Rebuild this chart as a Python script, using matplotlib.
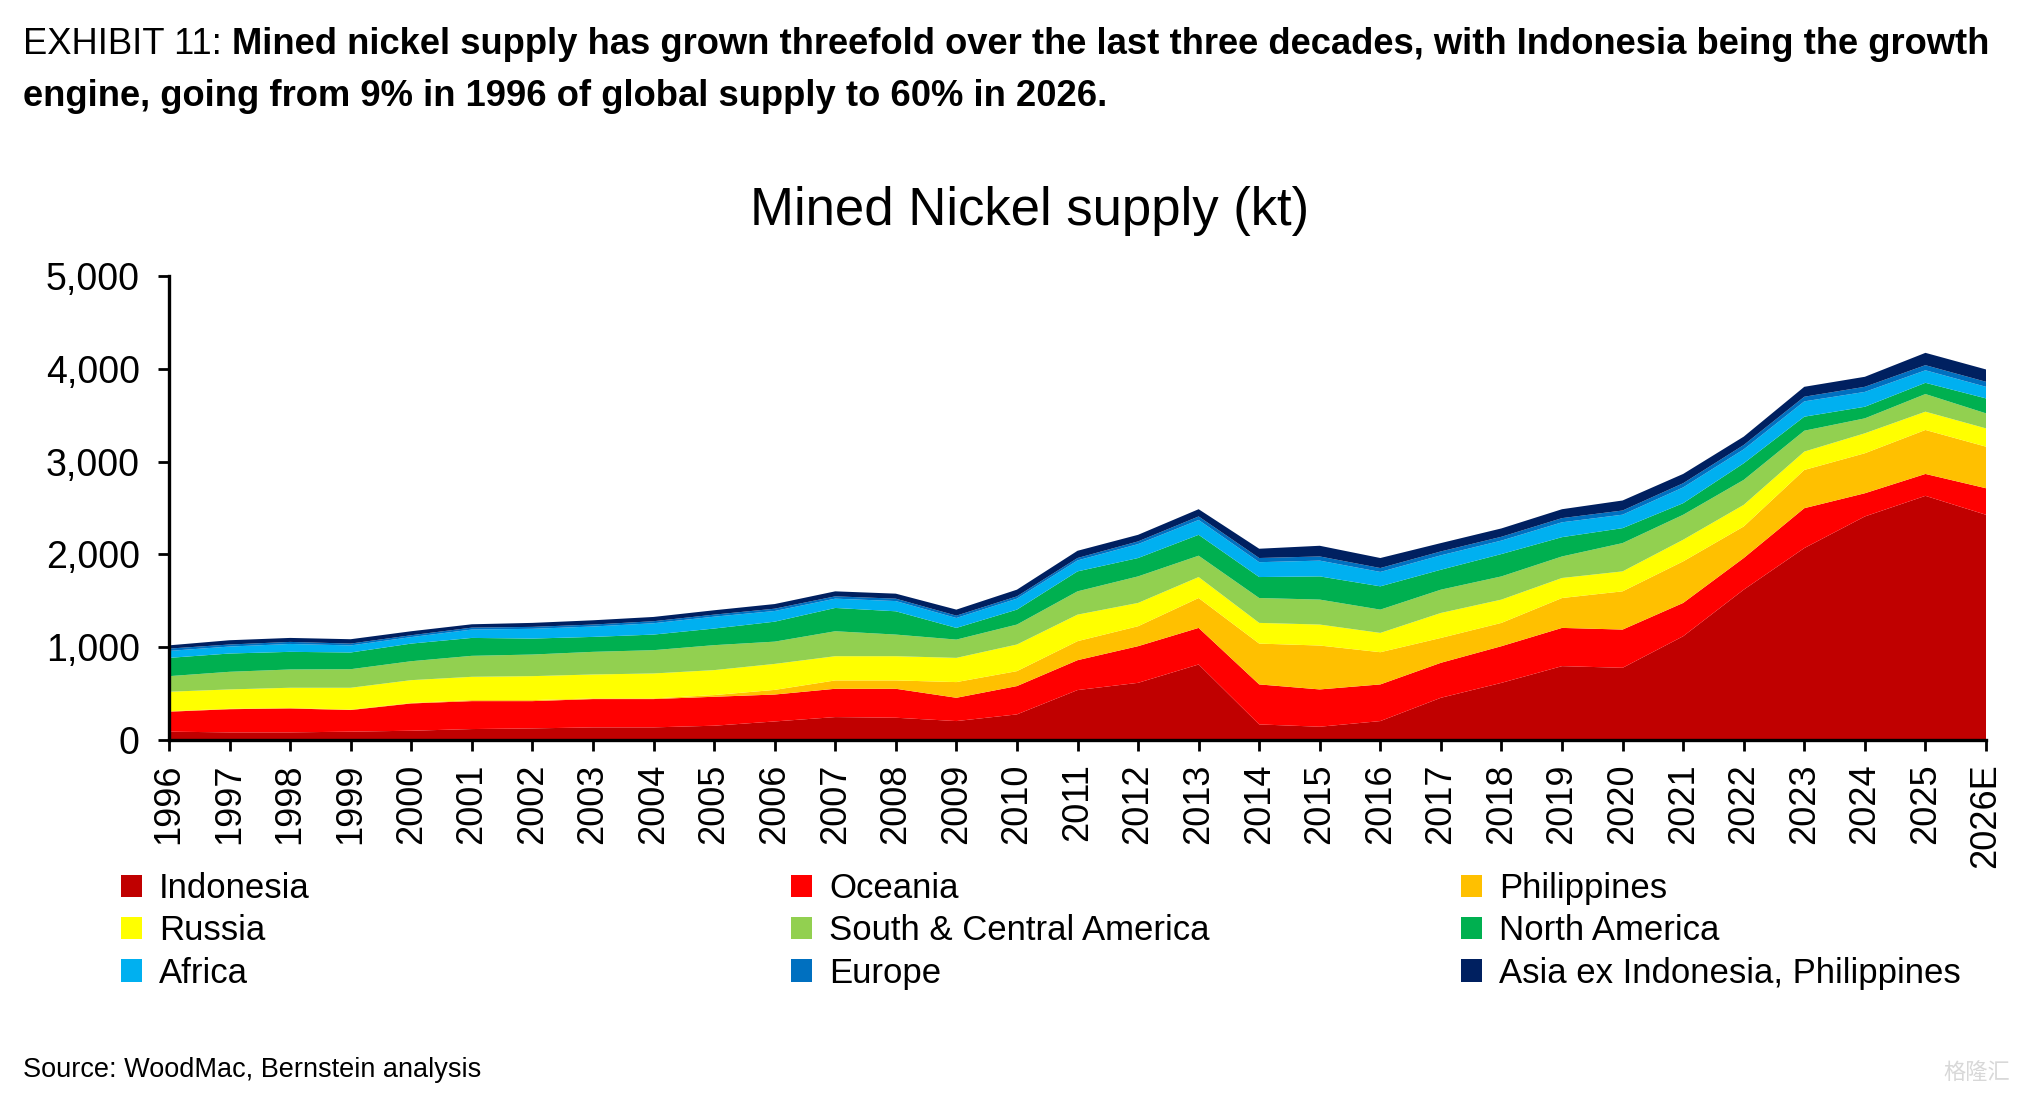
import numpy as np
import matplotlib
matplotlib.use("Agg")
import matplotlib.pyplot as plt
from matplotlib.patches import Patch

years = [str(y) for y in range(1996, 2026)] + ["2026E"]

# kt
indonesia = [90, 82, 82, 90, 100, 118, 125, 136, 136, 154, 200, 247, 240, 204, 276, 538,
             616, 814, 168, 143, 204, 455, 616, 796, 778, 1118, 1620, 2068, 2409, 2631, 2427]
oceania = [215, 250, 258, 233, 294, 301, 294, 305, 305, 312, 290, 305, 312, 251, 305, 322,
           395, 394, 431, 402, 395, 377, 395, 412, 412, 359, 341, 430, 250, 236, 286]
philippines = [5, 5, 5, 5, 5, 11, 11, 7, 7, 18, 50, 90, 90, 169, 161, 205,
               215, 322, 440, 473, 347, 268, 251, 322, 412, 448, 340, 412, 431, 474, 448]
russia = [210, 208, 218, 235, 246, 251, 258, 258, 269, 269, 280, 261, 261, 261, 287, 286,
          251, 226, 223, 226, 208, 269, 251, 216, 215, 233, 233, 198, 215, 197, 197]
south_central_america = [168, 190, 197, 200, 204, 226, 233, 244, 251, 269, 240, 269, 233, 197, 215, 251,
                         286, 230, 268, 269, 251, 251, 250, 232, 305, 269, 269, 225, 161, 190, 162]
north_america = [197, 197, 190, 180, 190, 193, 172, 161, 168, 179, 215, 251, 251, 126, 161, 215,
                 198, 225, 226, 250, 251, 215, 241, 208, 161, 125, 179, 151, 125, 121, 161]
africa = [75, 75, 85, 76, 70, 90, 105, 112, 122, 128, 115, 100, 110, 107, 118, 118,
          150, 160, 160, 170, 155, 155, 145, 160, 145, 170, 150, 165, 160, 135, 125]
europe = [25, 22, 22, 20, 20, 21, 21, 21, 22, 22, 25, 25, 26, 25, 25, 26,
          29, 38, 45, 45, 42, 42, 41, 45, 45, 45, 47, 50, 55, 55, 54]
asia_ex = [35, 46, 43, 47, 43, 36, 43, 46, 46, 47, 50, 54, 54, 65, 72, 78,
           71, 78, 100, 115, 108, 90, 90, 96, 108, 100, 90, 107, 108, 133, 133]

series = [indonesia, oceania, philippines, russia, south_central_america,
          north_america, africa, europe, asia_ex]
names = ["Indonesia", "Oceania", "Philippines", "Russia", "South & Central America",
         "North America", "Africa", "Europe", "Asia ex Indonesia, Philippines"]
colors = ["#C00000", "#FF0000", "#FFC000", "#FFFF00", "#92D050",
          "#00B050", "#00B0F0", "#0070C0", "#002060"]

plt.rcParams["font.family"] = ["Liberation Sans", "DejaVu Sans"]

W, H = 2040, 1100
fig = plt.figure(figsize=(W / 100, H / 100), dpi=100)
ax = fig.add_axes([169 / W, 1 - 740 / H, 1817 / W, 464 / H])

x = np.arange(len(years))
ax.stackplot(x, *series, colors=colors, linewidth=0)
ax.set_xlim(0, len(years) - 1)
ax.set_ylim(0, 5000)
ax.set_yticks(range(0, 5001, 1000))
ax.set_yticklabels([f"{v:,}" for v in range(0, 5001, 1000)], fontsize=27)
ax.set_xticks(x)
ax.set_xticklabels(years, rotation=90, fontsize=26)
for s in ["top", "right"]:
    ax.spines[s].set_visible(False)
for s in ["left", "bottom"]:
    ax.spines[s].set_linewidth(2.4)
ax.tick_params(axis="y", direction="out", length=8, width=2, pad=13)
ax.tick_params(axis="x", direction="out", length=8, width=2, pad=9)

fig.text(1030 / W, 1 - 211 / H, "Mined Nickel supply (kt)", fontsize=38,
         ha="center", va="center")

# legend: three columns, filled row-wise like the original
handles = [Patch(facecolor=c, edgecolor="none") for c in colors]
for col, xpos in enumerate([121, 791, 1461]):
    fig.legend(handles[col::3], names[col::3], loc="upper left",
               bbox_to_anchor=(xpos / W, 1 - 872 / H), frameon=False,
               fontsize=25, handlelength=0.6, handleheight=0.6,
               handletextpad=0.5, labelspacing=0.27, borderpad=0, borderaxespad=0)

# header, fitted to the original width
hfam = ["Liberation Sans Narrow", "Liberation Sans", "DejaVu Sans"]
size = 28
t1 = fig.text(23 / W, 1 - 45 / H, "EXHIBIT 11: ", fontsize=size, va="center", family=hfam)
t2 = fig.text(0, 1 - 45 / H,
              "Mined nickel supply has grown threefold over the last three decades, "
              "with Indonesia being the growth", fontsize=size, va="center",
              family=hfam, weight="bold")
t3 = fig.text(23 / W, 1 - 96 / H,
              "engine, going from 9% in 1996 of global supply to 60% in 2026.",
              fontsize=size, va="center", family=hfam, weight="bold")
r = fig.canvas.get_renderer()
w = t1.get_window_extent(r).width + t2.get_window_extent(r).width
size = size * 1967 / w
for t in (t1, t2, t3):
    t.set_fontsize(size)
t2.set_x((23 + t1.get_window_extent(r).width) / W)

fig.text(23 / W, 1 - 1070 / H, "Source: WoodMac, Bernstein analysis", fontsize=19.5, va="center")
fig.text(2010 / W, 1 - 1072 / H, "格隆汇", fontsize=16, color="#d8d8d8", ha="right",
         va="center", family=["Noto Sans CJK SC", "DejaVu Sans"])

fig.savefig("out.png", dpi=100)
